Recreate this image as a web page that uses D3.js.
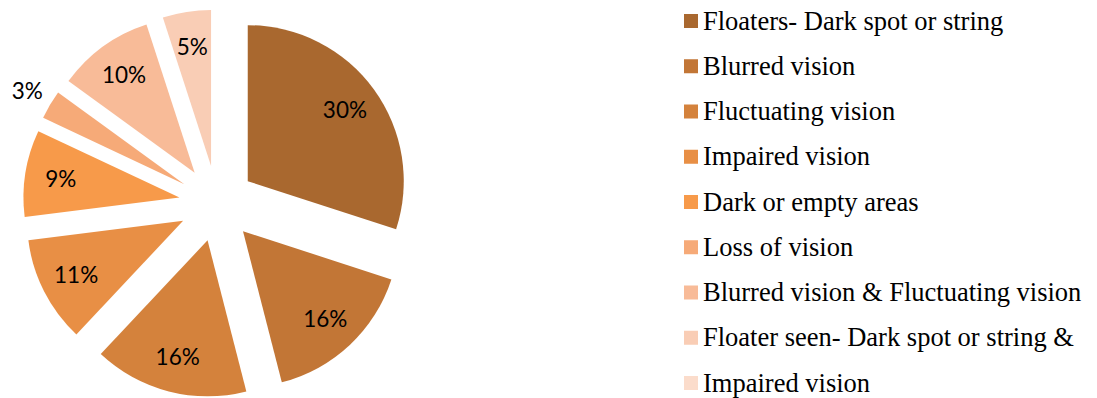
<!DOCTYPE html>
<html>
<head>
<meta charset="utf-8">
<script src="https://cdn.jsdelivr.net/npm/d3@7"></script>
<style>
  html, body { margin: 0; padding: 0; background: #fff; }
</style>
</head>
<body>
<svg id="chart" width="1097" height="398"></svg>
<script>
var CATEGORIES = [
  'Floaters- Dark spot or string',
  'Blurred vision',
  'Fluctuating vision',
  'Impaired vision',
  'Dark or empty areas',
  'Loss of vision',
  'Blurred vision & Fluctuating vision',
  'Floater seen- Dark spot or string &',
  'Impaired vision'
];
var VALUES = [30, 16, 16, 11, 9, 3, 10, 5, 0];
var COLORS = [
  '#a9682f', '#c27636', '#d4823c', '#e88f45', '#f79a4a',
  '#f6aa78', '#f8bb98', '#f9cdb5', '#fbdccb'
];
// labels Excel pushed outside the slice
var OUTSIDE = [false, false, false, false, false, true, false, false, false];

var svg = d3.select('#chart');
var cx = 217, cy = 203.5, radius = 156, explode = 38;

var pie = d3.pie().sort(null).value(function(d) { return d; });
var arcs = pie(VALUES);

var arc = d3.arc().innerRadius(0).outerRadius(radius);

var offsetFor = function(d, dist) {
  var a = (d.startAngle + d.endAngle) / 2;
  return [Math.sin(a) * dist, -Math.cos(a) * dist];
};

var slices = svg.append('g')
  .attr('transform', 'translate(' + cx + ',' + cy + ')');

slices.selectAll('path').data(arcs.filter(function(d) { return d.value > 0; }))
  .enter().append('path')
  .attr('d', arc)
  .attr('fill', function(d) { return COLORS[d.index]; })
  .attr('transform', function(d) {
    var o = offsetFor(d, explode);
    return 'translate(' + o[0] + ',' + o[1] + ')';
  });

slices.selectAll('text').data(arcs.filter(function(d) { return d.value > 0; }))
  .enter().append('text')
  .attr('x', function(d) {
    var f = OUTSIDE[d.index] ? 1.17 : 0.77;
    return offsetFor(d, explode)[0] + offsetFor(d, radius * f)[0];
  })
  .attr('y', function(d) {
    var f = OUTSIDE[d.index] ? 1.17 : 0.77;
    return offsetFor(d, explode)[1] + offsetFor(d, radius * f)[1];
  })
  .attr('dy', '0.35em')
  .attr('text-anchor', 'middle')
  .style('font-family', 'Lato, "Open Sans", sans-serif')
  .style('font-size', '22.5px')
  .style('fill', '#000')
  .text(function(d) { return d.value + '%'; });

// legend
var legend = svg.append('g').attr('transform', 'translate(684,21)');
var rowH = 45.25;

var rows = legend.selectAll('.entry').data(CATEGORIES)
  .enter().append('g')
  .classed('entry', true)
  .attr('transform', function(d, i) { return 'translate(0,' + (i * rowH) + ')'; });

rows.append('rect')
  .attr('x', 0).attr('y', -7)
  .attr('width', 14).attr('height', 14)
  .attr('fill', function(d, i) { return COLORS[i]; });

rows.append('text')
  .attr('x', 19)
  .attr('y', 8.5)
  .style('font-family', '"Liberation Serif", "Times New Roman", serif')
  .style('font-size', '26.5px')
  .style('fill', '#000')
  .text(function(d) { return d; });
</script>
</body>
</html>
